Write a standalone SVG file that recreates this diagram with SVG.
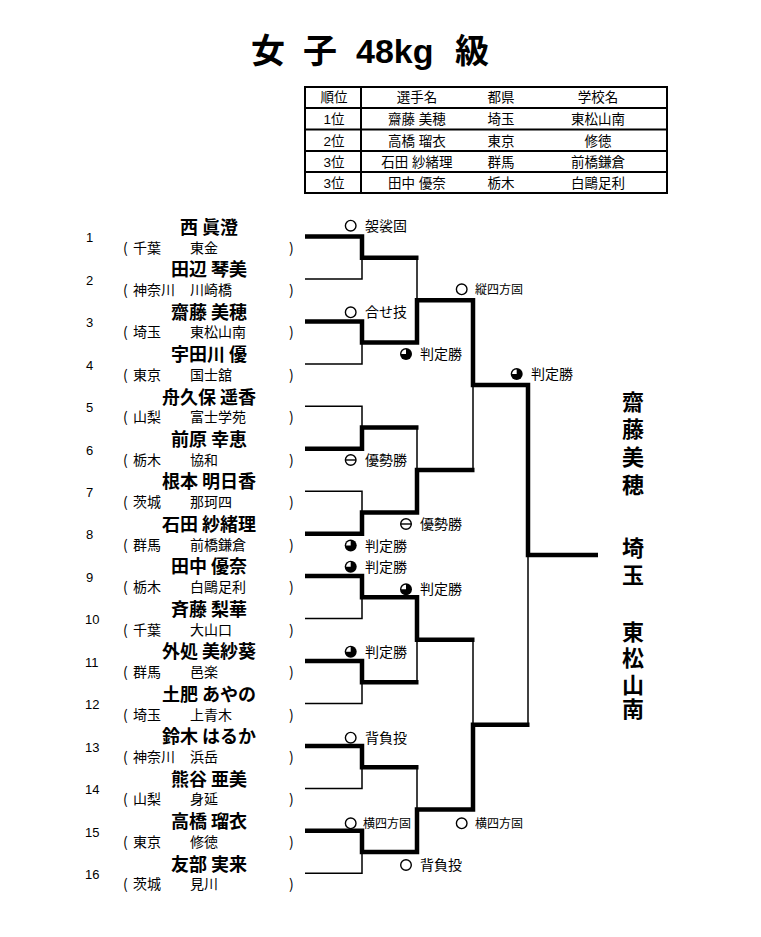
<svg xmlns="http://www.w3.org/2000/svg" width="761" height="937" viewBox="0 0 761 937">
<style>
text{font-family:"Liberation Sans","Noto Sans CJK JP",sans-serif;fill:#000}
.title{font-size:34px;font-weight:700}
.th{font-size:13.5px;text-anchor:middle}
.num{font-size:13px}
.name{font-size:18px;font-weight:700;text-anchor:middle;font-family:"Noto Sans CJK JP",sans-serif}
.aff{font-size:14px;font-family:"Noto Sans CJK JP",sans-serif}
.res{font-size:14px;font-family:"Noto Sans CJK JP",sans-serif}
.res4{font-size:12px;font-family:"Noto Sans CJK JP",sans-serif}
.win{font-size:22px;font-weight:700;text-anchor:middle;font-family:"Noto Sans CJK JP",sans-serif}
.tbl{stroke:#000;stroke-width:2;fill:none}
.thick{stroke:#000;stroke-width:4.5;fill:none;stroke-linejoin:miter;stroke-linecap:butt}
.thin{stroke:#000;stroke-width:1.5;fill:none}
</style>
<defs>
<g id="s-o"><circle r="5.3" fill="#fff" stroke="#000" stroke-width="1.4"/></g>
<g id="s-yu"><circle r="5.3" fill="#fff" stroke="#000" stroke-width="1.4"/><line x1="-5.3" y1="0" x2="5.3" y2="0" stroke="#000" stroke-width="1.4"/></g>
<g id="s-ha"><circle r="6" fill="#000"/><path d="M0,0 L-4.6,0 A4.6,4.6 0 0 1 0,-4.6 Z" fill="#fff"/></g>
</defs>
<rect width="761" height="937" fill="#fff"/>

<g id="title">
<text class="title" x="251" y="63">女</text>
<text class="title" x="303" y="63">子</text>
<text class="title" x="356" y="63">48kg</text>
<text class="title" x="455" y="63">級</text>
</g>

<g id="result-table">
<rect class="tbl" x="305" y="87" width="362" height="106"/>
<line class="tbl" x1="305" y1="108" x2="667" y2="108"/>
<line class="tbl" x1="305" y1="129.5" x2="667" y2="129.5"/>
<line class="tbl" x1="305" y1="151" x2="667" y2="151"/>
<line class="tbl" x1="305" y1="172" x2="667" y2="172"/>
<line class="tbl" x1="361" y1="87" x2="361" y2="193"/>
<text class="th" x="334" y="102.3">順位</text>
<text class="th" x="417" y="102.3">選手名</text>
<text class="th" x="501" y="102.3">都県</text>
<text class="th" x="598" y="102.3">学校名</text>
<text class="th" x="334" y="124">1位</text>
<text class="th" x="417" y="124">齋藤 美穂</text>
<text class="th" x="501" y="124">埼玉</text>
<text class="th" x="598" y="124">東松山南</text>
<text class="th" x="334" y="145.5">2位</text>
<text class="th" x="417" y="145.5">高橋 瑠衣</text>
<text class="th" x="501" y="145.5">東京</text>
<text class="th" x="598" y="145.5">修徳</text>
<text class="th" x="334" y="166.5">3位</text>
<text class="th" x="417" y="166.5">石田 紗緒理</text>
<text class="th" x="501" y="166.5">群馬</text>
<text class="th" x="598" y="166.5">前橋鎌倉</text>
<text class="th" x="334" y="188">3位</text>
<text class="th" x="417" y="188">田中 優奈</text>
<text class="th" x="501" y="188">栃木</text>
<text class="th" x="598" y="188">白鷗足利</text>
</g>

<g id="p1"><text class="num" x="86" y="242.2">1</text><text class="name" x="209" y="233.7">西 眞澄</text><text class="aff" x="123" y="252.5">(</text><text class="aff" x="133" y="252.5">千葉</text><text class="aff" x="190" y="252.5">東金</text><text class="aff" x="289" y="252.5">)</text></g>
<g id="p2"><text class="num" x="86" y="284.7">2</text><text class="name" x="209" y="276.2">田辺 琴美</text><text class="aff" x="123" y="295">(</text><text class="aff" x="133" y="295">神奈川</text><text class="aff" x="190" y="295">川崎橋</text><text class="aff" x="289" y="295">)</text></g>
<g id="p3"><text class="num" x="86" y="327.1">3</text><text class="name" x="209" y="318.6">齋藤 美穂</text><text class="aff" x="123" y="337.4">(</text><text class="aff" x="133" y="337.4">埼玉</text><text class="aff" x="190" y="337.4">東松山南</text><text class="aff" x="289" y="337.4">)</text></g>
<g id="p4"><text class="num" x="86" y="369.6">4</text><text class="name" x="209" y="361.1">宇田川 優</text><text class="aff" x="123" y="379.9">(</text><text class="aff" x="133" y="379.9">東京</text><text class="aff" x="190" y="379.9">国士舘</text><text class="aff" x="289" y="379.9">)</text></g>
<g id="p5"><text class="num" x="86" y="412">5</text><text class="name" x="209" y="403.5">舟久保 遥香</text><text class="aff" x="123" y="422.3">(</text><text class="aff" x="133" y="422.3">山梨</text><text class="aff" x="190" y="422.3">富士学苑</text><text class="aff" x="289" y="422.3">)</text></g>
<g id="p6"><text class="num" x="86" y="454.5">6</text><text class="name" x="209" y="446">前原 幸恵</text><text class="aff" x="123" y="464.8">(</text><text class="aff" x="133" y="464.8">栃木</text><text class="aff" x="190" y="464.8">協和</text><text class="aff" x="289" y="464.8">)</text></g>
<g id="p7"><text class="num" x="86" y="496.9">7</text><text class="name" x="209" y="488.4">根本 明日香</text><text class="aff" x="123" y="507.2">(</text><text class="aff" x="133" y="507.2">茨城</text><text class="aff" x="190" y="507.2">那珂四</text><text class="aff" x="289" y="507.2">)</text></g>
<g id="p8"><text class="num" x="86" y="539.4">8</text><text class="name" x="209" y="530.9">石田 紗緒理</text><text class="aff" x="123" y="549.7">(</text><text class="aff" x="133" y="549.7">群馬</text><text class="aff" x="190" y="549.7">前橋鎌倉</text><text class="aff" x="289" y="549.7">)</text></g>
<g id="p9"><text class="num" x="86" y="581.8">9</text><text class="name" x="209" y="573.3">田中 優奈</text><text class="aff" x="123" y="592.1">(</text><text class="aff" x="133" y="592.1">栃木</text><text class="aff" x="190" y="592.1">白鷗足利</text><text class="aff" x="289" y="592.1">)</text></g>
<g id="p10"><text class="num" x="85" y="624.3">10</text><text class="name" x="209" y="615.8">斉藤 梨華</text><text class="aff" x="123" y="634.6">(</text><text class="aff" x="133" y="634.6">千葉</text><text class="aff" x="190" y="634.6">大山口</text><text class="aff" x="289" y="634.6">)</text></g>
<g id="p11"><text class="num" x="85" y="666.7">11</text><text class="name" x="209" y="658.2">外処 美紗葵</text><text class="aff" x="123" y="677">(</text><text class="aff" x="133" y="677">群馬</text><text class="aff" x="190" y="677">邑楽</text><text class="aff" x="289" y="677">)</text></g>
<g id="p12"><text class="num" x="85" y="709.2">12</text><text class="name" x="209" y="700.7">土肥 あやの</text><text class="aff" x="123" y="719.5">(</text><text class="aff" x="133" y="719.5">埼玉</text><text class="aff" x="190" y="719.5">上青木</text><text class="aff" x="289" y="719.5">)</text></g>
<g id="p13"><text class="num" x="85" y="751.6">13</text><text class="name" x="209" y="743.1">鈴木 はるか</text><text class="aff" x="123" y="761.9">(</text><text class="aff" x="133" y="761.9">神奈川</text><text class="aff" x="190" y="761.9">浜岳</text><text class="aff" x="289" y="761.9">)</text></g>
<g id="p14"><text class="num" x="85" y="794.1">14</text><text class="name" x="209" y="785.6">熊谷 亜美</text><text class="aff" x="123" y="804.4">(</text><text class="aff" x="133" y="804.4">山梨</text><text class="aff" x="190" y="804.4">身延</text><text class="aff" x="289" y="804.4">)</text></g>
<g id="p15"><text class="num" x="85" y="836.5">15</text><text class="name" x="209" y="828">高橋 瑠衣</text><text class="aff" x="123" y="846.8">(</text><text class="aff" x="133" y="846.8">東京</text><text class="aff" x="190" y="846.8">修徳</text><text class="aff" x="289" y="846.8">)</text></g>
<g id="p16"><text class="num" x="85" y="879">16</text><text class="name" x="209" y="870.5">友部 実来</text><text class="aff" x="123" y="889.3">(</text><text class="aff" x="133" y="889.3">茨城</text><text class="aff" x="190" y="889.3">見川</text><text class="aff" x="289" y="889.3">)</text></g>

<g id="connectors">
<path class="thin" d="M305,279 H362 V257.7"/>
<path class="thin" d="M305,363.9 H362 V342.6"/>
<path class="thin" d="M305,406.3 H362 V427.5"/>
<path class="thin" d="M305,491.2 H362 V512.5"/>
<path class="thin" d="M305,618.6 H362 V597.3"/>
<path class="thin" d="M305,703.5 H362 V682.3"/>
<path class="thin" d="M305,788.4 H362 V767.2"/>
<path class="thin" d="M305,873.3 H362 V852"/>
<path class="thin" d="M417,257.7 V300.2"/>
<path class="thin" d="M417,427.5 V470"/>
<path class="thin" d="M417,639.8 V682.3"/>
<path class="thin" d="M417,767.2 V809.6"/>
<path class="thin" d="M473,470 V385.1"/>
<path class="thin" d="M473,639.8 V724.7"/>
<path class="thin" d="M528,554.9 V724.7"/>
<path class="thick" d="M305,236.5 H362 V257.7 H418.5"/>
<path class="thick" d="M305,321.4 H362 V342.6 H417 V300.2 H473 V385.1 H528 V554.9 H598"/>
<path class="thick" d="M305,448.8 H362 V427.5 H418.5"/>
<path class="thick" d="M305,533.7 H362 V512.5 H417 V470 H474.5"/>
<path class="thick" d="M305,576.1 H362 V597.3 H417 V639.8 H474.5"/>
<path class="thick" d="M305,661 H362 V682.3 H418.5"/>
<path class="thick" d="M305,745.9 H362 V767.2 H418.5"/>
<path class="thick" d="M305,830.8 H362 V852 H417 V809.6 H473 V724.7 H529.5"/>
</g>

<g id="results">
<use href="#s-o" x="350.7" y="225.7"/><text class="res" x="365" y="230.8">袈裟固</text>
<use href="#s-o" x="350.7" y="312.3"/><text class="res" x="365" y="317.4">合せ技</text>
<use href="#s-ha" x="406" y="354"/><text class="res" x="420" y="359.1">判定勝</text>
<use href="#s-o" x="461.7" y="289.3"/><text class="res4" x="475" y="293.7">縦四方固</text>
<use href="#s-ha" x="516.7" y="374"/><text class="res" x="531" y="379.1">判定勝</text>
<use href="#s-yu" x="350.7" y="460"/><text class="res" x="365" y="465.1">優勢勝</text>
<use href="#s-yu" x="406" y="524"/><text class="res" x="420" y="529.1">優勢勝</text>
<use href="#s-ha" x="350.7" y="545.5"/><text class="res" x="365" y="550.6">判定勝</text>
<use href="#s-ha" x="350.7" y="566.7"/><text class="res" x="365" y="571.8">判定勝</text>
<use href="#s-ha" x="406" y="589.3"/><text class="res" x="420" y="594.4">判定勝</text>
<use href="#s-ha" x="350.7" y="651.7"/><text class="res" x="365" y="656.8">判定勝</text>
<use href="#s-o" x="350.7" y="737.7"/><text class="res" x="365" y="742.8">背負投</text>
<use href="#s-o" x="350.7" y="823.3"/><text class="res4" x="363" y="827.7">横四方固</text>
<use href="#s-o" x="461.7" y="823.3"/><text class="res4" x="475" y="827.7">横四方固</text>
<use href="#s-o" x="406" y="865"/><text class="res" x="420" y="870.1">背負投</text>
</g>

<g id="champion">
<text class="win"><tspan x="633" y="410">齋</tspan><tspan x="633" y="437">藤</tspan><tspan x="633" y="465">美</tspan><tspan x="633" y="493">穂</tspan></text>
<text class="win"><tspan x="633" y="556">埼</tspan><tspan x="633" y="583">玉</tspan></text>
<text class="win"><tspan x="633" y="640">東</tspan><tspan x="633" y="666">松</tspan><tspan x="633" y="693">山</tspan><tspan x="633" y="717">南</tspan></text>
</g>
</svg>
